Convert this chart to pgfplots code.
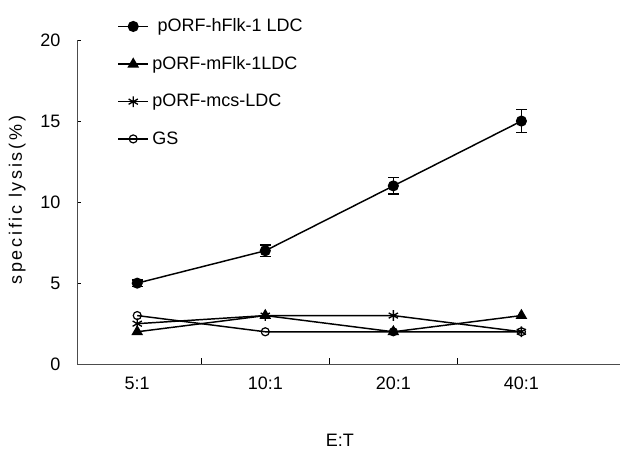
\documentclass[border=0pt]{standalone}
\usepackage{fontspec}
\setmainfont{Liberation Sans}
\newfontfamily\spaced[LetterSpace=15]{Liberation Sans}
\usepackage{pgfplots}
\pgfplotsset{compat=1.18}

\begin{document}
\begin{tikzpicture}[font=\fontsize{13.5}{16}\selectfont]
\begin{axis}[
  name=ax,
  scale only axis,
  width=407pt, height=243pt,
  xmin=-0.47, xmax=3.77,
  ymin=0, ymax=20,
  axis lines=left,
  axis line style={-, black!70, line width=0.8pt},
  xtick={0,1,2,3},
  xticklabels={5:1,10:1,20:1,40:1},
  minor xtick={0.5,1.5,2.5},
  ytick={0,5,10,15,20},
  tick align=inside,
  major x tick style={draw=none},
  minor tick length=5pt,
  major tick length=3pt,
  tick style={black, line width=0.6pt},
  x tick label style={anchor=center, yshift=-14.25pt},
  y tick label style={xshift=-9pt},
  /pgf/number format/assume math mode=true,
  xlabel={E:T},
  ylabel={\spaced specific lysis(\%)},
  xlabel style={at={(axis description cs:0.484,-0.235)}, anchor=center},
  ylabel style={at={(axis description cs:-0.11,0.506)}, anchor=center},
  legend style={draw=none, fill=none, at={(axis description cs:0.074,1.07)}, anchor=north west,
    row sep=15pt, inner sep=0pt, legend cell align=left,
    nodes={inner sep=1pt},
    /tikz/every odd column/.append style={column sep=1.5pt}},
  legend image code/.code={\draw[mark repeat=2, mark phase=2, #1] plot coordinates {(0pt,0pt) (11.25pt,0pt) (22.5pt,0pt)};},
  clip=false,
]
\addplot[black, line width=1.1pt, mark=*, mark size=3.6pt,
  error bars/.cd, y dir=both, y explicit, error bar style={line width=1pt}, error mark options={rotate=90, mark size=4pt, line width=1pt}]
  coordinates {(0,5) +- (0,0.2) (1,7) +- (0,0.35) (2,11) +- (0,0.5) (3,15) +- (0,0.7)};
\addlegendentry{\hspace{4pt}pORF-hFlk-1 LDC}
\addplot[black, line width=1.1pt, mark=triangle*, mark size=4pt, mark options={solid}] coordinates {(0,2) (1,3) (2,2) (3,3)};
\addlegendentry{pORF-mFlk-1LDC}
\addplot[black, line width=1.1pt, mark=asterisk, mark size=4pt, mark options={solid, line width=1pt}] coordinates {(0,2.5) (1,3) (2,3) (3,2)};
\addlegendentry{pORF-mcs-LDC}
\addplot[black, line width=1.1pt, mark=o, mark size=3pt, mark options={solid, fill=white, line width=0.9pt}] coordinates {(0,3) (1,2) (2,2) (3,2)};
\addlegendentry{GS}
\end{axis}
\pgfresetboundingbox
\path ([xshift=-57.75pt,yshift=-77.25pt]ax.south west) rectangle ([xshift=3pt,yshift=30pt]ax.north east);
\end{tikzpicture}
\end{document}
